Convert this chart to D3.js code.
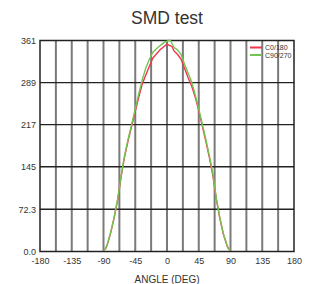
<!DOCTYPE html>
<html>
<head>
<meta charset="utf-8">
<script src="https://cdn.jsdelivr.net/npm/d3@7"></script>
<style>
  html, body { margin: 0; padding: 0; background: #fff; }
  svg { display: block; font-family: "Liberation Sans", Arial, sans-serif; }
</style>
</head>
<body>
<svg id="chart" width="309" height="284"></svg>
<script>
(function () {
  const angles = [-90, -87.5, -85, -80, -75, -70, -65, -60, -55, -50, -45, -40, -35, -30, -25, -20, -15, -10, -5, 0, 2.5, 5, 7.5, 10, 15, 20, 25, 30, 35, 40, 45, 50, 55, 60, 65, 70, 75, 80, 85, 87.5, 90];
  const c0_180 = [2, 4, 10, 31, 57, 88, 128, 163, 190, 215, 240, 264, 287, 302, 317, 331, 338, 345, 350, 355, 353, 352, 350, 343, 337, 329, 313, 297, 283, 264, 241, 215, 189, 161, 130, 89, 56, 29, 10, 4, 2];
  const c90_270 = [2, 4, 11, 32, 58, 89, 130, 165, 193, 218, 244, 270, 294, 314, 329, 341, 347, 352, 357, 360, 361, 361, 355, 349, 345, 337, 320, 305, 290, 268, 244, 218, 192, 164, 133, 90, 57, 30, 11, 4, 2];
  const series = [
    { name: 'C0/180', values: c0_180, color: '#f2344e' },
    { name: 'C90/270', values: c90_270, color: '#72c551' }
  ];
  const xTicks = [-180, -135, -90, -45, 0, 45, 90, 135, 180];
  const xGrid = d3.range(-180, 181, 22.5);
  const yTicks = [0, 72.3, 145, 217, 289, 361];
  const yTickLabels = ['0.0', '72.3', '145', '217', '289', '361'];

  const svg = d3.select('#chart');
  const left = 40, right = 294, top = 40.5, bottom = 251.5;

  const x = d3.scaleLinear().domain([-180, 180]).range([left, right]);
  const y = d3.scaleLinear().domain([0, 361]).range([bottom, top]);

  // title
  svg.append('text')
    .attr('x', (left + right) / 2).attr('y', 24)
    .attr('text-anchor', 'middle')
    .attr('font-size', 17.5).attr('fill', '#333')
    .text('SMD test');

  // vertical grid (grey)
  svg.append('g').selectAll('line').data(xGrid.slice(1, -1)).join('line')
    .attr('x1', d => x(d)).attr('x2', d => x(d))
    .attr('y1', top).attr('y2', bottom)
    .attr('stroke', '#7a7a7a').attr('stroke-width', 2);

  // horizontal grid (dark)
  svg.append('g').selectAll('line').data(yTicks.slice(1, -1)).join('line')
    .attr('x1', left).attr('x2', right)
    .attr('y1', d => y(d)).attr('y2', d => y(d))
    .attr('stroke', '#222').attr('stroke-width', 1.3);

  // frame
  svg.append('rect')
    .attr('x', left).attr('y', top)
    .attr('width', right - left).attr('height', bottom - top)
    .attr('fill', 'none').attr('stroke', '#222').attr('stroke-width', 1.5);

  // axes labels
  const yAxis = d3.axisLeft(y).tickValues(yTicks).tickSize(0).tickPadding(4)
    .tickFormat((d, i) => yTickLabels[i]);
  const gy = svg.append('g').attr('transform', `translate(${left},0)`).call(yAxis);
  gy.select('.domain').remove();
  gy.selectAll('text').attr('font-size', 9).attr('fill', '#333')
    .attr('font-family', '"Liberation Sans", Arial, sans-serif');

  const xAxis = d3.axisBottom(x).tickValues(xTicks).tickSize(0).tickPadding(6)
    .tickFormat(d => String(d));
  const gx = svg.append('g').attr('transform', `translate(0,${bottom})`).call(xAxis);
  gx.select('.domain').remove();
  gx.selectAll('text').attr('font-size', 9).attr('fill', '#333')
    .attr('font-family', '"Liberation Sans", Arial, sans-serif');

  svg.append('text')
    .attr('x', (left + right) / 2).attr('y', 283)
    .attr('text-anchor', 'middle')
    .attr('font-size', 10).attr('fill', '#333')
    .text('ANGLE (DEG)');

  // data lines
  const line = d3.line().x((d, i) => x(angles[i])).y(d => y(d));
  svg.append('g').selectAll('path').data(series).join('path')
    .attr('d', d => line(d.values))
    .attr('fill', 'none')
    .attr('stroke', d => d.color)
    .attr('stroke-width', 1.4)
    .attr('stroke-linejoin', 'round');

  // legend
  const lg = svg.append('g').attr('transform', 'translate(250,47.5)');
  const item = lg.selectAll('g').data(series).join('g')
    .attr('transform', (d, i) => `translate(0,${i * 7.5})`);
  item.append('line')
    .attr('x1', 0).attr('x2', 12).attr('y1', 0).attr('y2', 0)
    .attr('stroke', d => d.color).attr('stroke-width', 2);
  item.append('text')
    .attr('x', 15).attr('y', 2.5)
    .attr('font-size', 7).attr('fill', '#333')
    .text(d => d.name);
})();
</script>
</body>
</html>
